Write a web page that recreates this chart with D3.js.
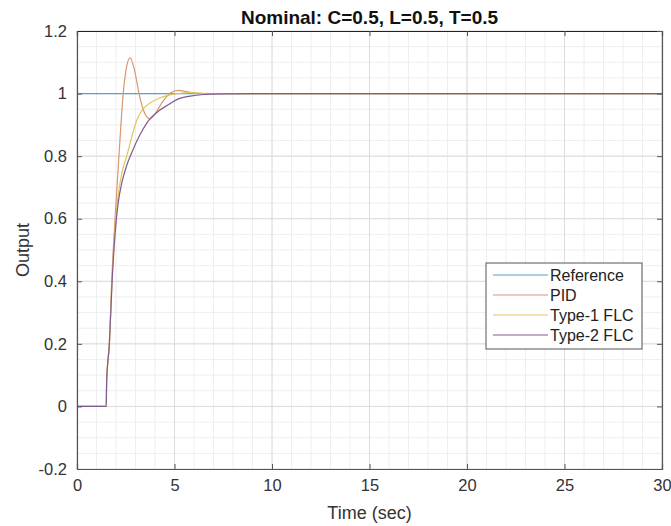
<!DOCTYPE html>
<html>
<head>
<meta charset="utf-8">
<script src="https://cdn.jsdelivr.net/npm/d3@7"></script>
<style>
  body { margin: 0; background: #fff; }
  svg { display: block; font-family: "Liberation Sans", Arial, sans-serif; }
</style>
</head>
<body>
<script>
// time (s) and output samples
const refT   = [0, 30];
const refY   = [1, 1];

const pidT   = [0, 1.5, 1.52, 1.66, 1.78, 1.95, 2.15, 2.37, 2.5, 2.72, 2.95, 3.18, 3.45, 3.74, 4.0, 4.4, 4.8, 5.2, 5.6, 6.2, 7.0, 8.0, 30];
const pidY   = [0, 0, 0.08, 0.2, 0.4, 0.6, 0.8, 1.0, 1.07, 1.114, 1.075, 1.0, 0.94, 0.919, 0.935, 0.975, 1.002, 1.01, 1.006, 1.0, 0.999, 1.0, 1.0];

const flc1T  = [0, 1.5, 1.52, 1.66, 1.8, 1.95, 2.1, 2.3, 2.55, 2.8, 3.1, 3.4, 3.75, 4.2, 4.7, 5.2, 5.8, 6.5, 7.5, 30];
const flc1Y  = [0, 0, 0.08, 0.2, 0.4, 0.57, 0.67, 0.745, 0.8, 0.86, 0.92, 0.952, 0.97, 0.985, 0.995, 1.0, 1.003, 1.001, 1.0, 1.0];

const flc2T  = [0, 1.5, 1.52, 1.66, 1.8, 1.95, 2.1, 2.3, 2.55, 2.8, 3.2, 3.57, 3.74, 4.2, 4.7, 5.2, 5.8, 6.5, 7.5, 9.0, 30];
const flc2Y  = [0, 0, 0.08, 0.2, 0.4, 0.55, 0.645, 0.715, 0.77, 0.81, 0.865, 0.905, 0.919, 0.945, 0.965, 0.983, 0.992, 0.997, 0.999, 1.0, 1.0];

const seriesNames = ["Reference", "PID", "Type-1 FLC", "Type-2 FLC"];
const seriesColors = ["#55a3c6", "#d9976e", "#e4c65e", "#7f5c8e"];

const xTicks = [0, 5, 10, 15, 20, 25, 30];
const yTicks = [-0.2, 0, 0.2, 0.4, 0.6, 0.8, 1, 1.2];

const width = 671, height = 526;
const margin = {left: 77, right: 9, top: 31, bottom: 57};

const svg = d3.select("body").append("svg")
  .attr("width", width)
  .attr("height", height);

const x = d3.scaleLinear().domain([0, 30]).range([margin.left, width - margin.right]);
const y = d3.scaleLinear().domain([-0.2, 1.2]).range([height - margin.bottom, margin.top]);

// minor grid
const xMinor = d3.range(0, 31, 1);
const yMinor = d3.range(-0.2, 1.2001, 0.05);
const grid = svg.append("g");
grid.selectAll(".vx").data(xMinor).join("line")
  .attr("x1", d => x(d)).attr("x2", d => x(d))
  .attr("y1", y.range()[0]).attr("y2", y.range()[1])
  .attr("stroke", "#eeeeee").attr("stroke-width", 1);
grid.selectAll(".hy").data(yMinor).join("line")
  .attr("y1", d => y(d)).attr("y2", d => y(d))
  .attr("x1", x.range()[0]).attr("x2", x.range()[1])
  .attr("stroke", "#eeeeee").attr("stroke-width", 1);

// major grid
grid.selectAll(".mx").data(xTicks).join("line")
  .attr("x1", d => x(d)).attr("x2", d => x(d))
  .attr("y1", y.range()[0]).attr("y2", y.range()[1])
  .attr("stroke", "#dcdcdc").attr("stroke-width", 1);
grid.selectAll(".my").data(yTicks).join("line")
  .attr("y1", d => y(d)).attr("y2", d => y(d))
  .attr("x1", x.range()[0]).attr("x2", x.range()[1])
  .attr("stroke", "#dcdcdc").attr("stroke-width", 1);

// lines
const line = d3.line()
  .x(d => x(d[0]))
  .y(d => y(d[1]))
  .curve(d3.curveMonotoneX);

const allSeries = [
  d3.zip(refT, refY),
  d3.zip(pidT, pidY),
  d3.zip(flc1T, flc1Y),
  d3.zip(flc2T, flc2Y)
];

svg.append("g")
  .attr("fill", "none")
  .selectAll("path")
  .data(allSeries)
  .join("path")
  .attr("d", line)
  .attr("stroke", (d, i) => seriesColors[i])
  .attr("stroke-width", 1.2);

// axes (MATLAB style: ticks inward, box)
const axisColor = "#555";
const tickLen = 5;
const fmt = d => String(+d.toFixed(1));

const xAxis = svg.append("g")
  .attr("transform", `translate(0,${y(-0.2)})`)
  .call(d3.axisBottom(x).tickValues(xTicks).tickSize(-tickLen).tickPadding(10).tickFormat(fmt));
const yAxis = svg.append("g")
  .attr("transform", `translate(${x(0)},0)`)
  .call(d3.axisLeft(y).tickValues(yTicks).tickSize(-tickLen).tickPadding(10).tickFormat(fmt));
const xTop = svg.append("g")
  .attr("transform", `translate(0,${y(1.2)})`)
  .call(d3.axisTop(x).tickValues(xTicks).tickSize(-tickLen).tickFormat(""));
const yRight = svg.append("g")
  .attr("transform", `translate(${x(30)},0)`)
  .call(d3.axisRight(y).tickValues(yTicks).tickSize(-tickLen).tickFormat(""));

[xAxis, yAxis, xTop, yRight].forEach(g => {
  g.select(".domain").attr("stroke", axisColor).attr("stroke-width", 1.2);
  g.selectAll(".tick line").attr("stroke", axisColor);
  g.selectAll(".tick text")
    .attr("fill", "#333")
    .style("font-size", "16.5px")
    .style("font-family", "'Liberation Sans', Arial, sans-serif");
});
xTop.select(".domain").attr("stroke", "#222");

// title and labels
svg.append("text")
  .attr("x", (x(0) + x(30)) / 2)
  .attr("y", 24)
  .attr("text-anchor", "middle")
  .style("font-size", "19px")
  .style("font-weight", "bold")
  .attr("fill", "#111")
  .text("Nominal: C=0.5, L=0.5, T=0.5");

svg.append("text")
  .attr("x", (x(0) + x(30)) / 2)
  .attr("y", 519)
  .attr("text-anchor", "middle")
  .style("font-size", "18px")
  .attr("fill", "#333")
  .text("Time (sec)");

svg.append("text")
  .attr("transform", `translate(29,${y(0.5)}) rotate(-90)`)
  .attr("text-anchor", "middle")
  .style("font-size", "18px")
  .attr("fill", "#333")
  .text("Output");

// legend
const lg = svg.append("g").attr("transform", "translate(486,263)");
lg.append("rect")
  .attr("width", 156).attr("height", 86)
  .attr("fill", "#fff")
  .attr("stroke", "#555").attr("stroke-width", 1);
const item = lg.selectAll("g.item")
  .data(seriesNames)
  .join("g")
  .attr("class", "item")
  .attr("transform", (d, i) => `translate(0,${12 + i * 20})`);
item.append("line")
  .attr("x1", 7).attr("x2", 62)
  .attr("stroke", (d, i) => seriesColors[i])
  .attr("stroke-width", 1.2);
item.append("text")
  .attr("x", 64)
  .attr("dy", "0.35em")
  .style("font-size", "16px")
  .attr("fill", "#222")
  .text(d => d);
</script>
</body>
</html>
